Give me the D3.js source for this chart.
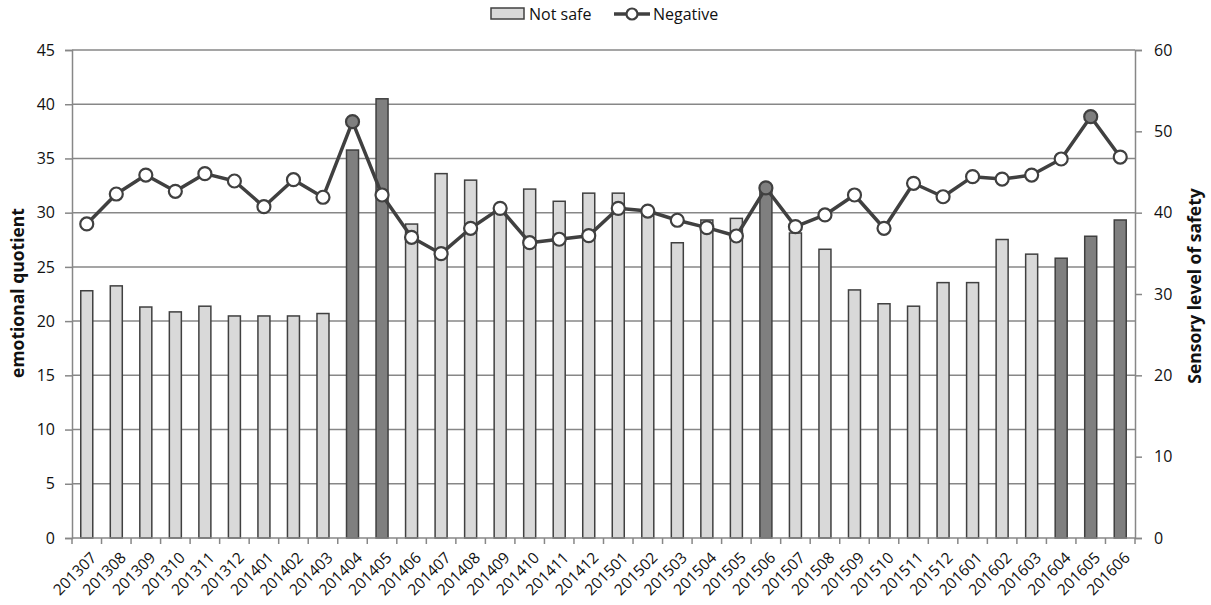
<!DOCTYPE html>
<html>
<head>
<meta charset="utf-8">
<script src="https://cdn.jsdelivr.net/npm/d3@7"></script>
<style>
  html, body { margin: 0; padding: 0; background: #fff; }
  svg { display: block; font-family: "Open Sans", "Noto Sans", sans-serif; }
</style>
</head>
<body>
<svg id="chart" width="1211" height="605"></svg>
<script>
// Months (YYYYMM)
const months = ["201307","201308","201309","201310","201311","201312","201401","201402","201403",
  "201404","201405","201406","201407","201408","201409","201410","201411","201412",
  "201501","201502","201503","201504","201505","201506","201507","201508","201509",
  "201510","201511","201512","201601","201602","201603","201604","201605","201606"];

// "Not safe" bars — sensory level of safety (right axis)
const notSafe = [30.4,31.0,28.4,27.8,28.5,27.3,27.3,27.3,27.6,
  47.7,54.0,38.6,44.8,44.0,40.5,42.9,41.4,42.4,
  42.4,40.0,36.3,39.1,39.3,43.0,37.5,35.5,30.5,
  28.8,28.5,31.4,31.4,36.7,34.9,34.4,37.1,39.1];

// "Negative" line — emotional quotient (left axis)
const negative = [28.96,31.72,33.47,31.97,33.6,32.92,30.55,33.04,31.42,
  38.39,31.63,27.73,26.22,28.56,30.4,27.23,27.55,27.88,
  30.4,30.15,29.3,28.62,27.85,32.28,28.71,29.79,31.63,
  28.56,32.71,31.47,33.32,33.1,33.47,34.95,38.85,35.13];

// Months whose bar / marker are drawn in dark grey
const darkBars = ["201404","201405","201506","201604","201605","201606"];
const darkMarkers = ["201404","201506","201605"];

const leftTicks = [0,5,10,15,20,25,30,35,40,45];
const rightTicks = [0,10,20,30,40,50,60];

const svg = d3.select("#chart");
const m = { left: 72, right: 1135, top: 50, bottom: 538 };

const x = d3.scaleBand().domain(months).range([m.left, m.right]).paddingInner(0).paddingOuter(0);
const yL = d3.scaleLinear().domain([0, 45]).range([m.bottom, m.top]);
const yR = d3.scaleLinear().domain([0, 60]).range([m.bottom, m.top]);

const gridColor = "#878787";
const ink = "#404040";
const textColor = "#111";

// Horizontal gridlines on the left scale
svg.append("g").selectAll("line").data(leftTicks.filter(d => d > 0)).join("line")
  .attr("x1", m.left).attr("x2", m.right)
  .attr("y1", d => yL(d)).attr("y2", d => yL(d))
  .attr("stroke", gridColor).attr("stroke-width", 1.5);

// Left axis
const axL = svg.append("g").attr("transform", `translate(${m.left},0)`)
  .call(d3.axisLeft(yL).tickValues(leftTicks).tickSize(7).tickPadding(10));
// Right axis
const axR = svg.append("g").attr("transform", `translate(${m.right},0)`)
  .call(d3.axisRight(yR).tickValues(rightTicks).tickSize(7).tickPadding(12));
[axL, axR].forEach(a => {
  a.select(".domain").attr("stroke", gridColor).attr("stroke-width", 1.5);
  a.selectAll(".tick line").attr("stroke", gridColor).attr("stroke-width", 1.5);
  a.selectAll(".tick text").attr("fill", textColor).style("font-size", "16px")
    .style("font-family", "'Open Sans', sans-serif");
});

// Bars
const bw = 12;
svg.append("g").selectAll("rect").data(months).join("rect")
  .attr("x", d => x(d) + x.bandwidth() / 2 - bw / 2)
  .attr("width", bw)
  .attr("y", (d, i) => yR(notSafe[i]))
  .attr("height", (d, i) => yR(0) - yR(notSafe[i]))
  .attr("fill", d => darkBars.includes(d) ? "#7f7f7f" : "#d9d9d9")
  .attr("stroke", ink).attr("stroke-width", 1.5);

// Bottom axis with ticks at category boundaries
const xb = svg.append("g");
xb.append("line").attr("x1", m.left).attr("x2", m.right).attr("y1", m.bottom).attr("y2", m.bottom)
  .attr("stroke", gridColor).attr("stroke-width", 1.5);
xb.selectAll("line.tk").data(d3.range(months.length + 1)).join("line").attr("class", "tk")
  .attr("x1", i => m.left + i * x.bandwidth()).attr("x2", i => m.left + i * x.bandwidth())
  .attr("y1", m.bottom).attr("y2", m.bottom + 6)
  .attr("stroke", gridColor).attr("stroke-width", 1.5);
xb.selectAll("text").data(months).join("text")
  .attr("transform", d => `translate(${x(d) + x.bandwidth() / 2 + 3},${m.bottom + 13}) rotate(-45)`)
  .attr("text-anchor", "end").attr("dy", "0.7em")
  .attr("fill", textColor).style("font-size", "15.5px")
  .text(d => d);

// Line series
const line = d3.line().x((d, i) => x(months[i]) + x.bandwidth() / 2).y(d => yL(d));
svg.append("path").datum(negative).attr("d", line)
  .attr("fill", "none").attr("stroke", ink).attr("stroke-width", 3.5).attr("stroke-linejoin", "round");
svg.append("g").selectAll("circle").data(negative).join("circle")
  .attr("cx", (d, i) => x(months[i]) + x.bandwidth() / 2)
  .attr("cy", d => yL(d))
  .attr("r", 6.5)
  .attr("fill", (d, i) => darkMarkers.includes(months[i]) ? "#7f7f7f" : "#fff")
  .attr("stroke", ink).attr("stroke-width", 2.2);

// Axis titles
svg.append("text")
  .attr("transform", `translate(24,293) rotate(-90)`)
  .attr("text-anchor", "middle").attr("fill", "#111")
  .style("font-size", "17.5px").style("font-weight", "bold")
  .text("emotional quotient");
svg.append("text")
  .attr("transform", `translate(1201,286) rotate(-90)`)
  .attr("text-anchor", "middle").attr("fill", "#111")
  .style("font-size", "17.5px").style("font-weight", "bold")
  .text("Sensory level of safety");

// Legend
const lg = svg.append("g");
lg.append("rect").attr("x", 491).attr("y", 8).attr("width", 33).attr("height", 11)
  .attr("fill", "#d9d9d9").attr("stroke", ink).attr("stroke-width", 1.5);
lg.append("text").attr("x", 529).attr("y", 14).attr("dy", "0.35em")
  .attr("fill", textColor).style("font-size", "16px").text("Not safe");
lg.append("line").attr("x1", 614).attr("x2", 650).attr("y1", 14).attr("y2", 14)
  .attr("stroke", ink).attr("stroke-width", 3.5);
lg.append("circle").attr("cx", 632).attr("cy", 14).attr("r", 5.5)
  .attr("fill", "#fff").attr("stroke", ink).attr("stroke-width", 2.2);
lg.append("text").attr("x", 653).attr("y", 14).attr("dy", "0.35em")
  .attr("fill", textColor).style("font-size", "16px").text("Negative");
</script>
</body>
</html>
